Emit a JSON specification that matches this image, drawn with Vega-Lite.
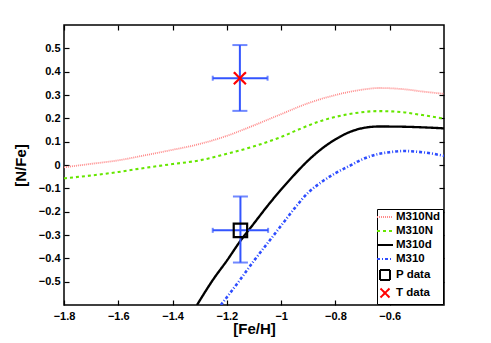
{
  "$schema": "https://vega.github.io/schema/vega-lite/v6.json",
  "autosize": {"type": "none"},
  "padding": {"left": 64, "top": 25, "right": 47, "bottom": 38},
  "width": 380,
  "height": 280,
  "config": {
    "view": {"stroke": "black", "strokeWidth": 1.5},
    "font": "Liberation Sans",
    "axis": {
      "grid": false,
      "domain": false,
      "offset": -5,
      "labelFlush": false,
      "tickColor": "black",
      "tickWidth": 1.2,
      "tickSize": 5,
      "labelFont": "Liberation Sans",
      "labelFontWeight": "bold",
      "labelFontSize": 11,
      "labelColor": "black",
      "titleFont": "Liberation Sans",
      "titleFontWeight": "bold",
      "titleFontSize": 15,
      "titleColor": "black"
    },
    "legend": {
      "title": null,
      "orient": "bottom-right",
      "offset": 1,
      "strokeColor": "black",
      "fillColor": "white",
      "padding": 2,
      "rowPadding": 0,
      "symbolSize": 100,
      "symbolStrokeWidth": 2,
      "labelFont": "Liberation Sans",
      "labelFontWeight": "bold",
      "labelFontSize": 11.5,
      "labelColor": "black",
      "labelOffset": 5
    }
  },
  "datasets": {
    "curves": [
      {"series": "M310Nd", "x": -1.8, "y": -0.01},
      {"series": "M310Nd", "x": -1.7, "y": 0.005},
      {"series": "M310Nd", "x": -1.6, "y": 0.02},
      {"series": "M310Nd", "x": -1.5, "y": 0.042},
      {"series": "M310Nd", "x": -1.4, "y": 0.065},
      {"series": "M310Nd", "x": -1.3, "y": 0.09},
      {"series": "M310Nd", "x": -1.2, "y": 0.125},
      {"series": "M310Nd", "x": -1.1, "y": 0.17},
      {"series": "M310Nd", "x": -1.0, "y": 0.218},
      {"series": "M310Nd", "x": -0.9, "y": 0.265},
      {"series": "M310Nd", "x": -0.8, "y": 0.3},
      {"series": "M310Nd", "x": -0.7, "y": 0.323},
      {"series": "M310Nd", "x": -0.64, "y": 0.33},
      {"series": "M310Nd", "x": -0.55, "y": 0.325},
      {"series": "M310Nd", "x": -0.48, "y": 0.315},
      {"series": "M310Nd", "x": -0.4, "y": 0.305},
      {"series": "M310N", "x": -1.8, "y": -0.057},
      {"series": "M310N", "x": -1.7, "y": -0.045},
      {"series": "M310N", "x": -1.6, "y": -0.03},
      {"series": "M310N", "x": -1.5, "y": -0.012},
      {"series": "M310N", "x": -1.4, "y": 0.004},
      {"series": "M310N", "x": -1.3, "y": 0.02},
      {"series": "M310N", "x": -1.2, "y": 0.048},
      {"series": "M310N", "x": -1.1, "y": 0.08},
      {"series": "M310N", "x": -1.0, "y": 0.12},
      {"series": "M310N", "x": -0.93, "y": 0.155},
      {"series": "M310N", "x": -0.85, "y": 0.19},
      {"series": "M310N", "x": -0.75, "y": 0.218},
      {"series": "M310N", "x": -0.64, "y": 0.231},
      {"series": "M310N", "x": -0.55, "y": 0.226},
      {"series": "M310N", "x": -0.48, "y": 0.214},
      {"series": "M310N", "x": -0.4, "y": 0.199},
      {"series": "M310d", "x": -1.31, "y": -0.6},
      {"series": "M310d", "x": -1.25, "y": -0.49},
      {"series": "M310d", "x": -1.2, "y": -0.41},
      {"series": "M310d", "x": -1.15, "y": -0.325},
      {"series": "M310d", "x": -1.1, "y": -0.25},
      {"series": "M310d", "x": -1.05, "y": -0.175},
      {"series": "M310d", "x": -1.0, "y": -0.105},
      {"series": "M310d", "x": -0.95, "y": -0.04},
      {"series": "M310d", "x": -0.9, "y": 0.02},
      {"series": "M310d", "x": -0.85, "y": 0.07},
      {"series": "M310d", "x": -0.8, "y": 0.11},
      {"series": "M310d", "x": -0.75, "y": 0.14},
      {"series": "M310d", "x": -0.7, "y": 0.158},
      {"series": "M310d", "x": -0.64, "y": 0.165},
      {"series": "M310d", "x": -0.55, "y": 0.164},
      {"series": "M310d", "x": -0.47, "y": 0.161},
      {"series": "M310d", "x": -0.4, "y": 0.157},
      {"series": "M310", "x": -1.222, "y": -0.6},
      {"series": "M310", "x": -1.15, "y": -0.49},
      {"series": "M310", "x": -1.1, "y": -0.41},
      {"series": "M310", "x": -1.05, "y": -0.335},
      {"series": "M310", "x": -1.0, "y": -0.26},
      {"series": "M310", "x": -0.95, "y": -0.185},
      {"series": "M310", "x": -0.9, "y": -0.118},
      {"series": "M310", "x": -0.85, "y": -0.072},
      {"series": "M310", "x": -0.8, "y": -0.035},
      {"series": "M310", "x": -0.75, "y": -0.005},
      {"series": "M310", "x": -0.7, "y": 0.025},
      {"series": "M310", "x": -0.65, "y": 0.045},
      {"series": "M310", "x": -0.6, "y": 0.055},
      {"series": "M310", "x": -0.55, "y": 0.06},
      {"series": "M310", "x": -0.5, "y": 0.057},
      {"series": "M310", "x": -0.45, "y": 0.05},
      {"series": "M310", "x": -0.4, "y": 0.039}
    ],
    "pts": [
      {"series": "P data", "x": -1.15, "y": -0.28, "xlo": -1.252, "xhi": -1.048, "ylo": -0.418, "yhi": -0.135},
      {"series": "T data", "x": -1.152, "y": 0.372, "xlo": -1.252, "xhi": -1.05, "ylo": 0.232, "yhi": 0.514}
    ]
  },
  "layer": [
    {
      "data": {"name": "curves"},
      "mark": {"type": "line", "interpolate": "monotone", "clip": true},
      "encoding": {
        "x": {"field": "x", "type": "quantitative",
          "scale": {"domain": [-1.8, -0.4], "nice": false, "zero": false},
          "axis": {"title": "[Fe/H]", "values": [-1.8, -1.6, -1.4, -1.2, -1, -0.8, -0.6], "format": "~g", "labelPadding": 5, "titlePadding": 0, "orient": "bottom"}},
        "y": {"field": "y", "type": "quantitative",
          "scale": {"domain": [-0.6, 0.6], "nice": false, "zero": false},
          "axis": {"title": "[N/Fe]", "values": [-0.5, -0.4, -0.3, -0.2, -0.1, 0, 0.1, 0.2, 0.3, 0.4, 0.5], "format": "~g", "labelPadding": 4, "titlePadding": 10, "orient": "left"}},
        "color": {"field": "series", "type": "nominal",
          "scale": {"domain": ["M310Nd", "M310N", "M310d", "M310", "P data", "T data"], "range": ["#ff8a8a", "#66e600", "#000000", "#2e4dff", "#000000", "#ff0000"]}},
        "strokeDash": {"field": "series", "type": "nominal",
          "scale": {"domain": ["M310Nd", "M310N", "M310d", "M310", "P data", "T data"], "range": [[1, 1], [3, 3], [1, 0], [3, 2, 1, 2], [1, 0], [1, 0]]}},
        "strokeWidth": {"field": "series", "type": "nominal",
          "scale": {"domain": ["M310Nd", "M310N", "M310d", "M310"], "range": [1.8, 2.6, 2.6, 2.2]},
          "legend": null}
      }
    },
    {
      "data": {"name": "pts"},
      "mark": {"type": "rule", "color": "#3355ff", "strokeWidth": 2},
      "encoding": {
        "x": {"field": "x", "type": "quantitative", "axis": {"orient": "top", "labels": false, "title": null, "values": [-1.8, -1.6, -1.4, -1.2, -1, -0.8, -0.6]}},
        "y": {"field": "ylo", "type": "quantitative", "axis": {"orient": "right", "labels": false, "title": null, "values": [-0.5, -0.4, -0.3, -0.2, -0.1, 0, 0.1, 0.2, 0.3, 0.4, 0.5]}},
        "y2": {"field": "yhi"}
      }
    },
    {
      "data": {"name": "pts"},
      "mark": {"type": "rule", "color": "#3355ff", "strokeWidth": 2},
      "encoding": {
        "x": {"field": "xlo", "type": "quantitative", "axis": null},
        "x2": {"field": "xhi"},
        "y": {"field": "y", "type": "quantitative", "axis": null}
      }
    },
    {
      "data": {"name": "pts"},
      "mark": {"type": "tick", "orient": "horizontal", "color": "#3355ff", "thickness": 2, "size": 15},
      "encoding": {
        "x": {"field": "x", "type": "quantitative", "axis": null},
        "y": {"field": "ylo", "type": "quantitative", "axis": null}
      }
    },
    {
      "data": {"name": "pts"},
      "mark": {"type": "tick", "orient": "horizontal", "color": "#3355ff", "thickness": 2, "size": 15},
      "encoding": {
        "x": {"field": "x", "type": "quantitative", "axis": null},
        "y": {"field": "yhi", "type": "quantitative", "axis": null}
      }
    },
    {
      "data": {"name": "pts"},
      "mark": {"type": "tick", "orient": "vertical", "color": "#3355ff", "thickness": 2, "size": 5},
      "encoding": {
        "x": {"field": "xlo", "type": "quantitative", "axis": null},
        "y": {"field": "y", "type": "quantitative", "axis": null}
      }
    },
    {
      "data": {"name": "pts"},
      "mark": {"type": "tick", "orient": "vertical", "color": "#3355ff", "thickness": 2, "size": 5},
      "encoding": {
        "x": {"field": "xhi", "type": "quantitative", "axis": null},
        "y": {"field": "y", "type": "quantitative", "axis": null}
      }
    },
    {
      "data": {"name": "pts"},
      "mark": {"type": "point", "filled": false, "strokeWidth": 2.2, "opacity": 1, "size": 180},
      "encoding": {
        "x": {"field": "x", "type": "quantitative", "axis": null},
        "y": {"field": "y", "type": "quantitative", "axis": null},
        "color": {"field": "series", "type": "nominal",
          "scale": {"domain": ["M310Nd", "M310N", "M310d", "M310", "P data", "T data"], "range": ["#ff8a8a", "#66e600", "#000000", "#2e4dff", "#000000", "#ff0000"]}},
        "shape": {"field": "series", "type": "nominal",
          "scale": {"domain": ["M310Nd", "M310N", "M310d", "M310", "P data", "T data"], "range": ["M-1.6,0L1.6,0M0,-0.5M0,0.5", "M-1.6,0L1.6,0M0,-0.5M0,0.5", "M-1.6,0L1.6,0M0,-0.5M0,0.5", "M-1.6,0L1.6,0M0,-0.5M0,0.5", "square", "M-0.9,-0.9L0.9,0.9M-0.9,0.9L0.9,-0.9"]}},
        "strokeDash": {"field": "series", "type": "nominal",
          "scale": {"domain": ["M310Nd", "M310N", "M310d", "M310", "P data", "T data"], "range": [[1, 1], [3, 3], [1, 0], [3, 2, 1, 2], [1, 0], [1, 0]]}}
      }
    }
  ],
  "resolve": {"axis": {"x": "independent", "y": "independent"}}
}
